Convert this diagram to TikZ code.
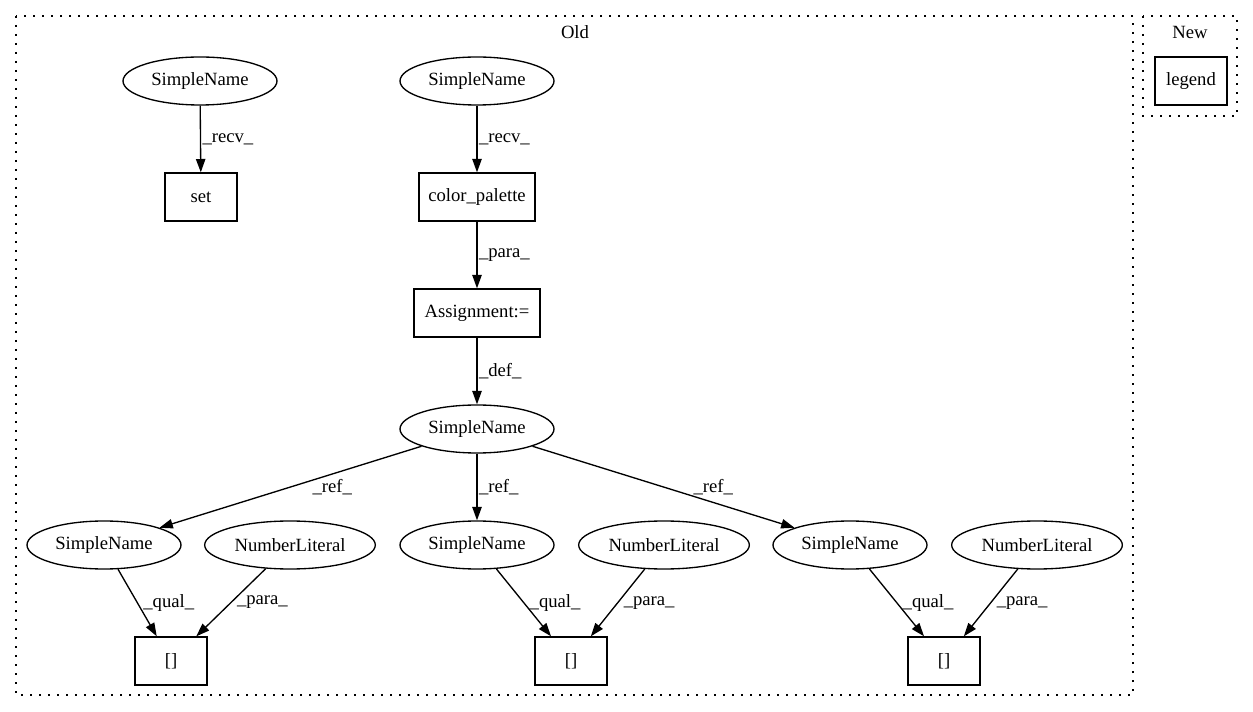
\documentclass[tikz,border=0pt]{standalone}
\usepackage{fontspec}
\setmainfont{Liberation Serif}
\usetikzlibrary{arrows.meta}
\usetikzlibrary{shapes.geometric}

\begin{document}
\begin{tikzpicture}[x=0.75pt,y=-0.75pt,line width=1pt,
  every node/.style={font=\fontsize{14}{16}\selectfont},
  ast/.style={draw,ellipse,inner sep=0pt,minimum width=115.5pt,minimum height=36pt},
  call/.style={draw,rectangle,inner sep=0pt,minimum width=54pt,minimum height=36pt},
  lbl/.style={inner sep=0pt,anchor=west},
  cluster/.style={draw,dash pattern=on 1.5pt off 5.25pt}]

  \useasboundingbox (0,0) rectangle (1253,712);

  % clusters
  \draw [cluster] (16,16) rectangle (1133,695);
  \node (Oldlab) at (575,32) {Old};
  \draw [cluster] (1143,16) rectangle (1237,116);
  \node (Newlab) at (1190,32) {New};
  \node [call] (legend) at (1191,81) {legend};

  \node [ast] (Sset) at (200,81) {SimpleName};
  \node [call] (set) at (201,197) {set};

  \node [ast] (Spal) at (477,81) {SimpleName};
  \node [call,minimum width=87pt] (pal) at (477,197) {color\_palette};
  \node [call,minimum width=94.5pt] (asg) at (477,313) {Assignment:=};
  \node [ast] (Svar) at (477,429) {SimpleName};

  \node [ast] (S_1) at (104,545) {SimpleName};
  \node [ast,minimum width=128pt] (N_1) at (290,545) {NumberLiteral};
  \node [call] (I_1) at (171,661) {[]};

  \node [ast] (S_2) at (477,545) {SimpleName};
  \node [ast,minimum width=128pt] (N_2) at (664,545) {NumberLiteral};
  \node [call] (I_2) at (571,661) {[]};

  \node [ast] (S_3) at (850,545) {SimpleName};
  \node [ast,minimum width=128pt] (N_3) at (1037,545) {NumberLiteral};
  \node [call] (I_3) at (944,661) {[]};

  \path [draw,->,>={Triangle[length=10pt,width=7pt]}]
    (Sset) edge node [lbl,xshift=1pt] {\_recv\_} (set)
    (Spal) edge node [lbl,xshift=1pt] {\_recv\_} (pal)
    (pal)  edge node [lbl,xshift=1pt] {\_para\_} (asg)
    (asg)  edge node [lbl,xshift=1pt] {\_def\_} (Svar)
    (Svar) edge node [lbl,xshift=16pt] {\_ref\_} (S_1)
    (Svar) edge node [lbl,xshift=1pt] {\_ref\_} (S_2)
    (Svar) edge node [lbl,xshift=22pt] {\_ref\_} (S_3)
    (S_1)  edge node [lbl,xshift=4pt] {\_qual\_} (I_1)
    (N_1)  edge node [lbl,xshift=4pt] {\_para\_} (I_1)
    (S_2)  edge node [lbl,xshift=4pt] {\_qual\_} (I_2)
    (N_2)  edge node [lbl,xshift=4pt] {\_para\_} (I_2)
    (S_3)  edge node [lbl,xshift=4pt] {\_qual\_} (I_3)
    (N_3)  edge node [lbl,xshift=4pt] {\_para\_} (I_3);
\end{tikzpicture}
\end{document}
